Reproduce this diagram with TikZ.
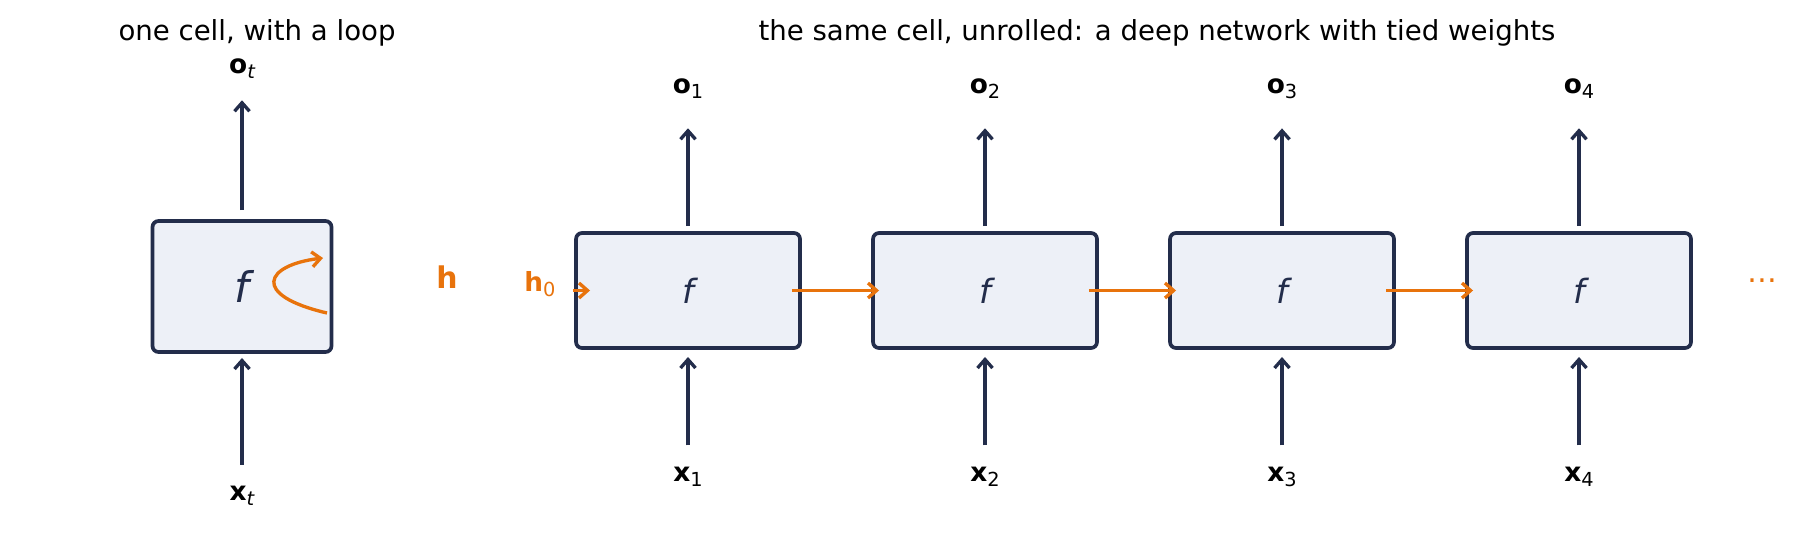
\documentclass[tikz,border=0pt]{standalone}
\usepackage{xcolor}
\usepackage{fontspec}
\setmainfont{DejaVu Sans}
\usepackage{tikz}
\usetikzlibrary{arrows.meta}

\definecolor{navy}{HTML}{232D4B}
\definecolor{cellfill}{HTML}{EDF0F7}
\definecolor{hcol}{HTML}{E8730C}

\newcommand{\vlab}[2]{\textbf{#1}\raisebox{-0.35ex}{\fontsize{11}{13}\selectfont #2}}

\tikzset{
  cell/.style={draw=navy, fill=cellfill, line width=2.1pt, rounded corners=0.12cm,
    outer sep=0pt, inner sep=0pt, text=navy, font=\fontsize{19}{22}\selectfont\itshape,
    minimum width=4.48cm, minimum height=2.3cm},
  bigcell/.style={cell, minimum width=3.58cm, minimum height=2.62cm, font=\fontsize{24}{28}\selectfont\itshape},
  flow/.style={draw=navy, line width=1.9pt, -{Straight Barb[length=0.17cm,width=0.3cm]}},
  hflow/.style={draw=hcol, line width=1.9pt, -{Straight Barb[length=0.17cm,width=0.3cm]}},
  lab/.style={inner sep=0pt, font=\fontsize{15}{18}\selectfont},
  ttl/.style={font=\fontsize{15.7}{18}\selectfont}
}

\begin{document}
\begin{tikzpicture}[x=0.02cm, y=-0.02cm]
     \useasboundingbox (0,0) rectangle (1797,555);

     \node[ttl] (ttlleft) at (257,33) {one cell, with a loop};
     \node[ttl] (ttlright) at (1157,33) {the same cell, unrolled: a deep network with tied weights};

     % folded cell
     \node[bigcell] (c0) at (242,286.5) {f};
     \node[lab] (o0) at (242,69) {\vlab{o}{\itshape t}};
     \node[lab] (x0) at (242,496) {\vlab{x}{\itshape t}};
     \draw[flow, shorten <=0.22cm, shorten >=0.42cm] (c0.north) -- (o0.south);
     \draw[flow, shorten <=0.42cm, shorten >=0.12cm] (x0.north) -- (c0.south);
     \coordinate (lpin) at (327,313);
     \coordinate (lpout) at (323,258);
     \draw[hflow] (lpin) .. controls (250,295) and (265,265) .. (lpout);
     \node[lab, text=hcol, font=\fontsize{17}{20}\selectfont] (hlab) at (447,277) {\textbf{h}};

     % unrolled cells
     \node[cell] (c1) at (688,290.5) {f};
     \node[cell] (c2) at (985,290.5) {f};
     \node[cell] (c3) at (1282,290.5) {f};
     \node[cell] (c4) at (1579,290.5) {f};

     \node[lab] (o1) at (688,89) {\vlab{o}{1}};
     \node[lab] (o2) at (985,89) {\vlab{o}{2}};
     \node[lab] (o3) at (1282,89) {\vlab{o}{3}};
     \node[lab] (o4) at (1579,89) {\vlab{o}{4}};
     \node[lab] (x1) at (688,477) {\vlab{x}{1}};
     \node[lab] (x2) at (985,477) {\vlab{x}{2}};
     \node[lab] (x3) at (1282,477) {\vlab{x}{3}};
     \node[lab] (x4) at (1579,477) {\vlab{x}{4}};

     \draw[flow, shorten <=0.14cm, shorten >=0.58cm] (c1.north) -- (o1.south);
     \draw[flow, shorten <=0.14cm, shorten >=0.58cm] (c2.north) -- (o2.south);
     \draw[flow, shorten <=0.14cm, shorten >=0.58cm] (c3.north) -- (o3.south);
     \draw[flow, shorten <=0.14cm, shorten >=0.58cm] (c4.north) -- (o4.south);
     \draw[flow, shorten <=0.43cm, shorten >=0.18cm] (x1.north) -- (c1.south);
     \draw[flow, shorten <=0.43cm, shorten >=0.18cm] (x2.north) -- (c2.south);
     \draw[flow, shorten <=0.43cm, shorten >=0.18cm] (x3.north) -- (c3.south);
     \draw[flow, shorten <=0.43cm, shorten >=0.18cm] (x4.north) -- (c4.south);

     % hidden state chain
     \node[lab, text=hcol] (h0) at (540,284) {\vlab{h}{0}};
     \draw[hflow] ([xshift=-0.06cm]c1.west) -- ([xshift=0.28cm]c1.west);
     \draw[hflow] ([xshift=-0.16cm]c1.east) -- ([xshift=0.12cm]c2.west);
     \draw[hflow] ([xshift=-0.16cm]c2.east) -- ([xshift=0.12cm]c3.west);
     \draw[hflow] ([xshift=-0.16cm]c3.east) -- ([xshift=0.12cm]c4.west);
     \node[text=hcol, inner sep=0pt, font=\fontsize{17}{20}\selectfont] (more) at (1762,281) {…};
\end{tikzpicture}
\end{document}
